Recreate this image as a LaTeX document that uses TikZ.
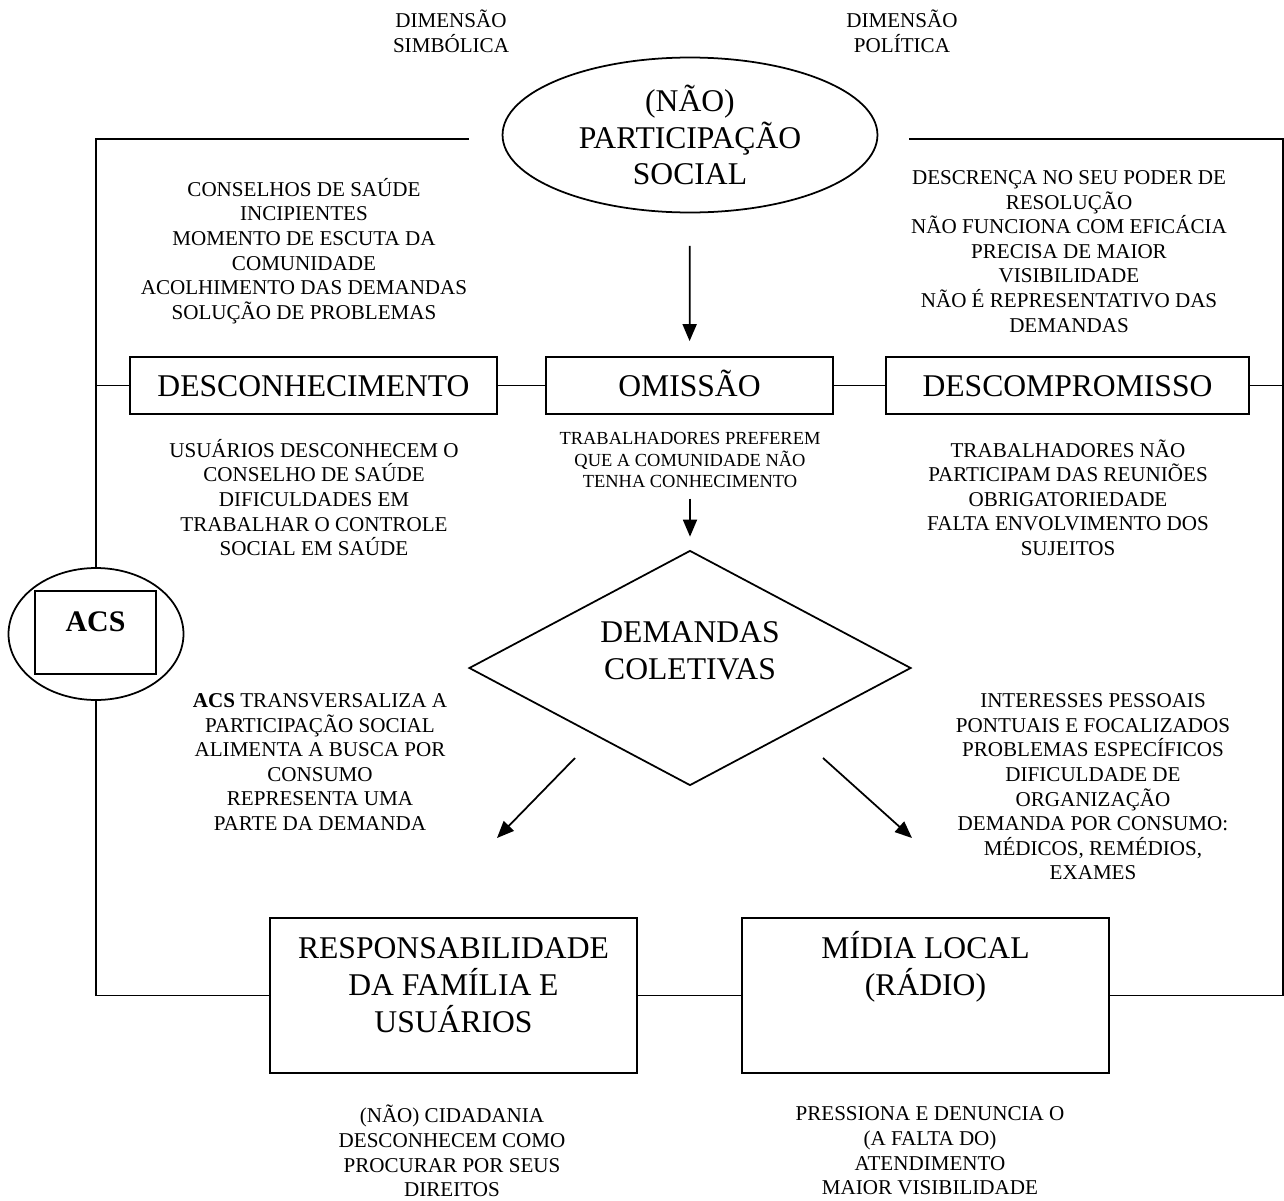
\documentclass[tikz,border=0pt]{standalone}
\usepackage{fontspec}
\setmainfont{Liberation Serif}
\usetikzlibrary{arrows.meta,positioning,shapes.geometric}
\tikzset{
  >={Triangle[length=3.4mm,width=2.8mm]},
  line/.style={line width=1pt},
  box/.style={draw,line width=1pt,inner sep=0pt,align=center},
  big/.style={font=\fontsize{18}{21}\selectfont,align=center,inner sep=0pt},
  row/.style={box,big,minimum height=1.14cm,text height=12.5pt,text depth=0.5pt},
  tag/.style={font=\fontsize{12}{14}\selectfont,align=center,inner sep=0pt},
  small tag/.style={font=\fontsize{10.5}{12.5}\selectfont,align=center,inner sep=0pt},
  flow/.style={->,line width=1pt},
}
\newcommand{\vg}{,}

\begin{document}
\begin{tikzpicture}[x=0.02cm,y=-0.02cm]
    \useasboundingbox (0,0) rectangle (1284,1200);
    % main shapes
    \node[ellipse,draw,line width=1pt,minimum width=7.5cm,minimum height=3.1cm,inner sep=0pt,big] (part) at (690,135) {(NÃO)\\PARTICIPAÇÃO\\SOCIAL};
    \node[row,minimum width=7.34cm] (desc) at (313.5,385.5) {DESCONHECIMENTO};
    \node[row,minimum width=5.74cm] (omis) at (689.5,385.5) {OMISSÃO};
    \node[row,minimum width=7.26cm] (comp) at (1067.5,385.5) {DESCOMPROMISSO};
    \node[small tag] (omistxt) at (690,460) {TRABALHADORES PREFEREM\\QUE A COMUNIDADE NÃO\\TENHA CONHECIMENTO};
    \node[diamond,draw,line width=1pt,minimum width=8.84cm,minimum height=4.7cm,inner sep=0pt] (dem) at (690,668) {};
    \node[big] (demtxt) at (690,651) {DEMANDAS\\COLETIVAS};
    \node[ellipse,draw,line width=1pt,minimum width=3.5cm,minimum height=2.64cm,inner sep=0pt] (acs) at (96,634) {};
    \node[box,minimum width=2.42cm,minimum height=1.66cm] (acsbox) at (95.5,632.5) {};
    \node[font=\fontsize{17}{20}\selectfont\bfseries] (acstxt) at (95.5,622) {ACS};
    \node[box,minimum width=7.34cm,minimum height=3.1cm] (resp) at (453.5,995.5) {};
    \node[big] (resptxt) at (453.5,985) {RESPONSABILIDADE\\DA FAMÍLIA E\\USUÁRIOS};
    \node[box,minimum width=7.34cm,minimum height=3.1cm] (midia) at (925.5,995.5) {};
    \node[big] (midiatxt) at (925.5,966.5) {MÍDIA LOCAL\\(RÁDIO)};
    % notes
    \foreach \x/\y/\t [count=\i] in {
      451/31/DIMENSÃO\\SIMBÓLICA,
      902/31/DIMENSÃO\\POLÍTICA,
      304/251/CONSELHOS DE SAÚDE\\INCIPIENTES\\MOMENTO DE ESCUTA DA\\COMUNIDADE\\ACOLHIMENTO DAS DEMANDAS\\SOLUÇÃO DE PROBLEMAS,
      1069/251.5/DESCRENÇA NO SEU PODER DE\\RESOLUÇÃO\\NÃO FUNCIONA COM EFICÁCIA\\PRECISA DE MAIOR\\VISIBILIDADE\\NÃO É REPRESENTATIVO DAS\\DEMANDAS,
      314/497.5/USUÁRIOS DESCONHECEM O\\CONSELHO DE SAÚDE\\DIFICULDADES EM\\TRABALHAR O CONTROLE\\SOCIAL EM SAÚDE,
      1068/497.5/TRABALHADORES NÃO\\PARTICIPAM DAS REUNIÕES\\OBRIGATORIEDADE\\FALTA ENVOLVIMENTO DOS\\SUJEITOS,
      320/762/\textbf{ACS} TRANSVERSALIZA A\\PARTICIPAÇÃO SOCIAL\\ALIMENTA A BUSCA POR\\CONSUMO\\REPRESENTA UMA\\PARTE DA DEMANDA,
      1093/787/INTERESSES PESSOAIS\\PONTUAIS E FOCALIZADOS\\PROBLEMAS ESPECÍFICOS\\DIFICULDADE DE\\ORGANIZAÇÃO\\DEMANDA POR CONSUMO:\\MÉDICOS\vg{} REMÉDIOS\vg\\EXAMES,
      452/1151/(NÃO) CIDADANIA\\DESCONHECEM COMO\\PROCURAR POR SEUS\\DIREITOS,
      930/1151/PRESSIONA E DENUNCIA O\\(A FALTA DO)\\ATENDIMENTO\\MAIOR VISIBILIDADE}
    {
      \node[tag] (note\i) at (\x,\y) {\t};
    }
    % frame
    \coordinate (tl) at (96,139);
    \coordinate (tr) at (1283,139);
    \draw[line,shorten <=0.66cm] (part.west |- tl) -- (tl) -- (acs.north);
    \draw[line] (acs.south) -- (resp.west -| tl) -- (resp.west);
    \draw[line,shorten <=0.62cm] (part.east |- tr) -- (tr) -- (midia.east -| tr) -- (midia.east);
    \draw[line] (desc.west -| tl) -- (desc.west);
    \draw[line] (desc) -- (omis);
    \draw[line] (omis) -- (comp);
    \draw[line] (comp.east) -- (comp.east -| tr);
    \draw[line] (resp) -- (midia);
    % arrows
    \coordinate (dl1) at (575,758);
    \coordinate (dl2) at (497,838);
    \coordinate (dr1) at (823,758);
    \coordinate (dr2) at (912,838);
    \draw[flow,shorten <=0.65cm,shorten >=0.3cm] (part) -- (omis);
    \draw[flow,shorten <=0.2cm,shorten >=0.26cm] (omistxt) -- (dem);
    \draw[flow] (dl1) -- (dl2);
    \draw[flow] (dr1) -- (dr2);
\end{tikzpicture}
\end{document}
